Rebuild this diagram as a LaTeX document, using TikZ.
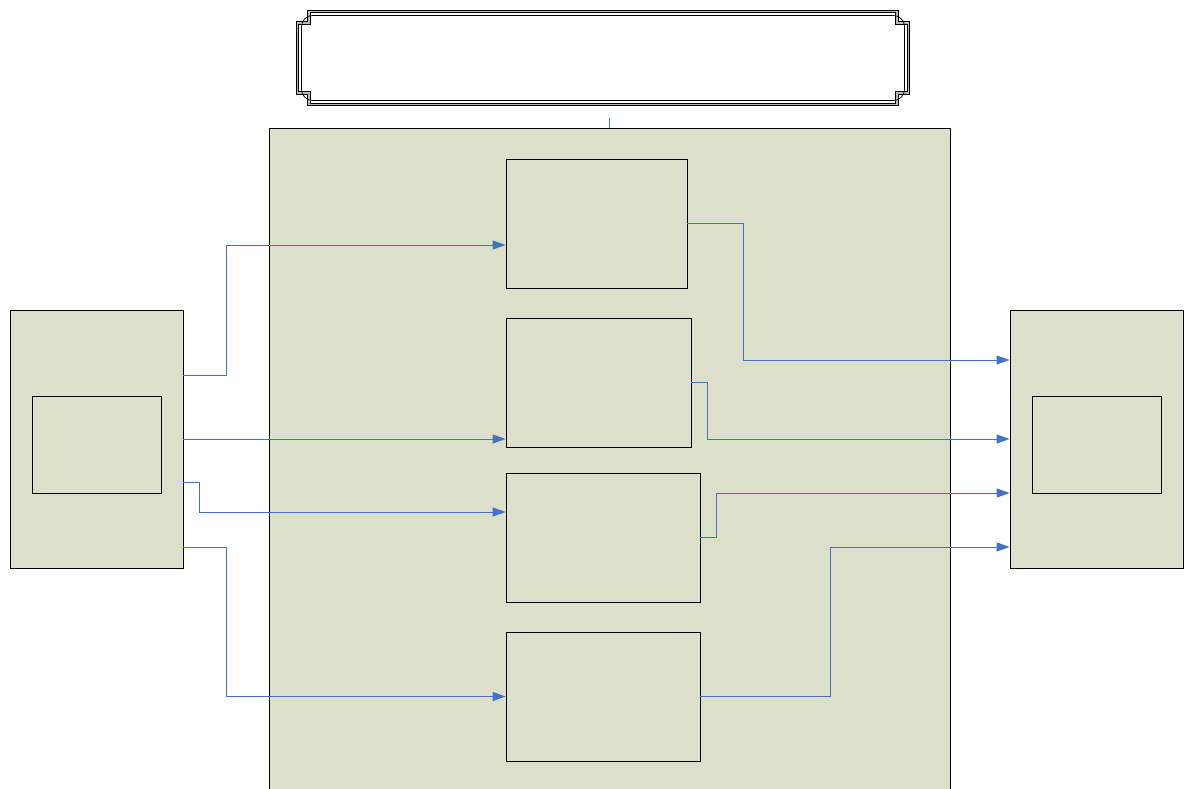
\documentclass[tikz,border=0pt]{standalone}
\usetikzlibrary{arrows.meta}

\definecolor{panel}{RGB}{220,224,203}
\definecolor{wire}{RGB}{68,114,196}

\tikzset{
  box/.style={draw, line width=0.8pt, fill=panel, inner sep=0pt},
  link/.style={wire, line width=1pt},
  feed/.style={link, -{Triangle[length=13pt,width=9pt]}},
  rim/.style={line width=3.6pt, black},
  rimcore/.style={line width=1.6pt, gray!55},
}

\begin{document}
\begin{tikzpicture}[x=1pt, y=-1pt]
                \useasboundingbox (0,0) rectangle (1184,789);
                \fill[white] (0,0) rectangle (1184,789);
                % container and title
                \node[box, minimum width=681, minimum height=700, anchor=north] (cont) at (609.5,128) {};
                \node[minimum width=614, minimum height=96, inner sep=0pt] (title) at (603,58) {};
                \foreach \sx/\sy in {1/1,-1/1,1/-1,-1/-1}{
                  \begin{scope}[shift={(title.center)}, xscale=\sx, yscale=\sy]
                    \draw[rim] (0,-46.5) -| (-294,-35) -| (-305.5,0);
                    \draw[rimcore] (0,-46.5) -| (-294,-35) -| (-305.5,0);
                    \draw[line width=0.7pt, rounded corners=11] (0,-42.5) -| (-301.5,0);
                  \end{scope}
                }
                % side boxes
                \node[box, minimum width=173, minimum height=258] (lft) at (96.5,439) {};
                \node[box, minimum width=129, minimum height=97] (lftin) at (96.5,444.5) {};
                \node[box, minimum width=173, minimum height=258] (rgt) at (1096.5,439) {};
                \node[box, minimum width=129, minimum height=97] (rgtin) at (1096.5,444.5) {};
                % inner blocks
                \node[box, minimum width=181, minimum height=129] (a) at (596.5,223.5) {};
                \node[box, minimum width=185, minimum height=129] (b) at (598.5,382.5) {};
                \node[box, minimum width=194, minimum height=129] (c) at (603,537.5) {};
                \node[box, minimum width=194, minimum height=129] (d) at (603,696.5) {};
                % connectors
                \draw[link] (cont.north) -- ++(0,-10);
                \draw[feed] ([yshift=64pt]lft.east) -- ++(43,0) |- ([yshift=-21.5pt]a.west);
                \draw[feed] (lft.east) -- ([yshift=-56.5pt]b.west);
                \draw[feed] ([yshift=-43pt]lft.east) -- ++(16,0) |- ([yshift=25.5pt]c.west);
                \draw[feed] ([yshift=-108pt]lft.east) -- ++(43,0) |- (d.west);
                \draw[feed] (a.east) -- ++(56,0) |- ([yshift=79pt]rgt.west);
                \draw[feed] (b.east) -- ++(16,0) |- (rgt.west);
                \draw[feed] (c.east) -- ++(16,0) |- ([yshift=-54pt]rgt.west);
                \draw[feed] (d.east) -- ++(130,0) |- ([yshift=-108pt]rgt.west);
\end{tikzpicture}
\end{document}
